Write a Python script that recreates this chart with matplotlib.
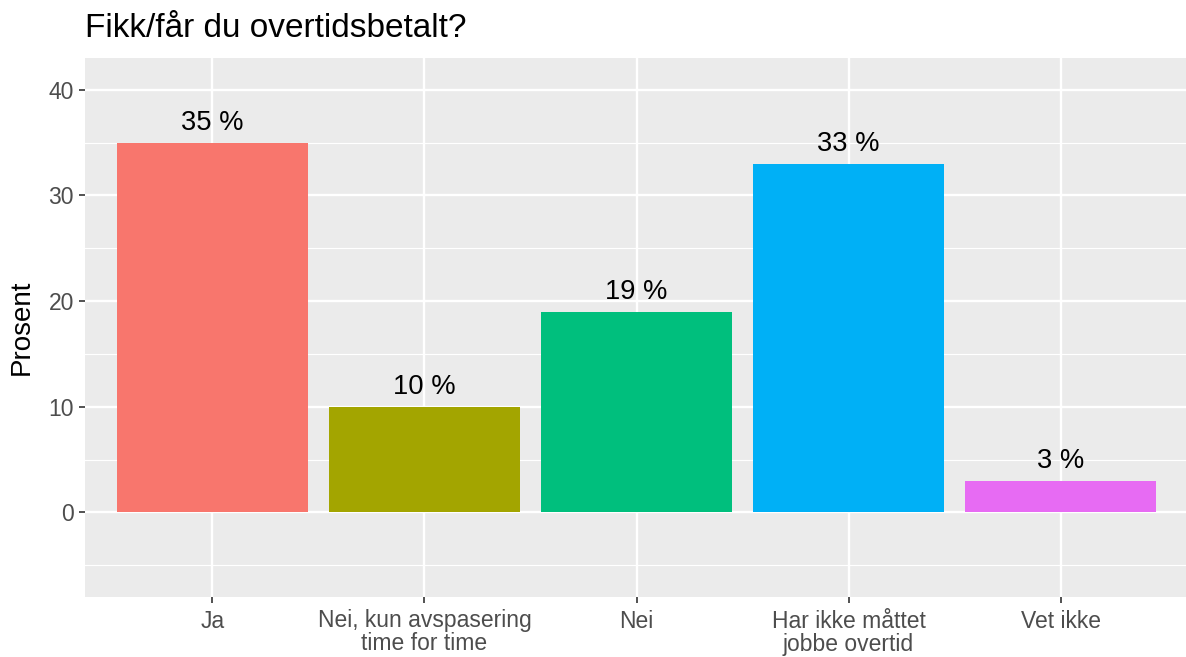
import numpy as np
import matplotlib.pyplot as plt

plt.rcParams['font.family'] = ['Liberation Sans', 'DejaVu Sans']

categories = ['Ja', 'Nei, kun avspasering\ntime for time', 'Nei',
              'Har ikke måttet\njobbe overtid', 'Vet ikke']
values = [35, 10, 19, 33, 3]
colors = ['#F8766D', '#A3A500', '#00BF7D', '#00B0F6', '#E76BF3']
yticks = [0, 10, 20, 30, 40]

W, H = 1186, 657
fig = plt.figure(figsize=(W / 100, H / 100), dpi=100)
ax = fig.add_axes([85 / W, (H - 597) / H, (1188 - 85) / W, (597 - 58) / H])

x = np.arange(len(categories))
ax.set_facecolor('#EBEBEB')
ax.set_xlim(-0.6, len(categories) - 0.4)
ax.set_ylim(-8.0, 43.0)

# grid: major white lines, minor thinner in between
for yv in yticks:
    ax.axhline(yv, color='white', lw=1.7, zorder=1)
for yv in [-5, 5, 15, 25, 35]:
    ax.axhline(yv, color='white', lw=0.85, zorder=1)
for xv in x:
    ax.axvline(xv, color='white', lw=1.7, zorder=1)

ax.bar(x, values, width=0.9, color=colors, zorder=2)
for xi, v in zip(x, values):
    ax.annotate(f'{v} %', (xi, v), xytext=(0, 5), textcoords='offset points',
                ha='center', va='bottom', fontsize=19.7, color='black')

for s in ax.spines.values():
    s.set_visible(False)

ax.set_xticks(x)
ax.set_xticklabels(categories, fontsize=16.5, color='#4D4D4D', linespacing=1.0)
ax.set_yticks(yticks)
ax.set_yticklabels([str(t) for t in yticks], fontsize=16.5, color='#4D4D4D')
ax.tick_params(axis='both', length=4, width=1.2, color='#333333', pad=4)
ax.tick_params(axis='x', pad=5)

ax.set_ylabel('Prosent', fontsize=20, color='black', labelpad=10)
fig.text(85 / W, (H - 37) / H, 'Fikk/får du overtidsbetalt?', fontsize=24,
         ha='left', va='baseline', color='black')

fig.savefig('out.png', dpi=100)
